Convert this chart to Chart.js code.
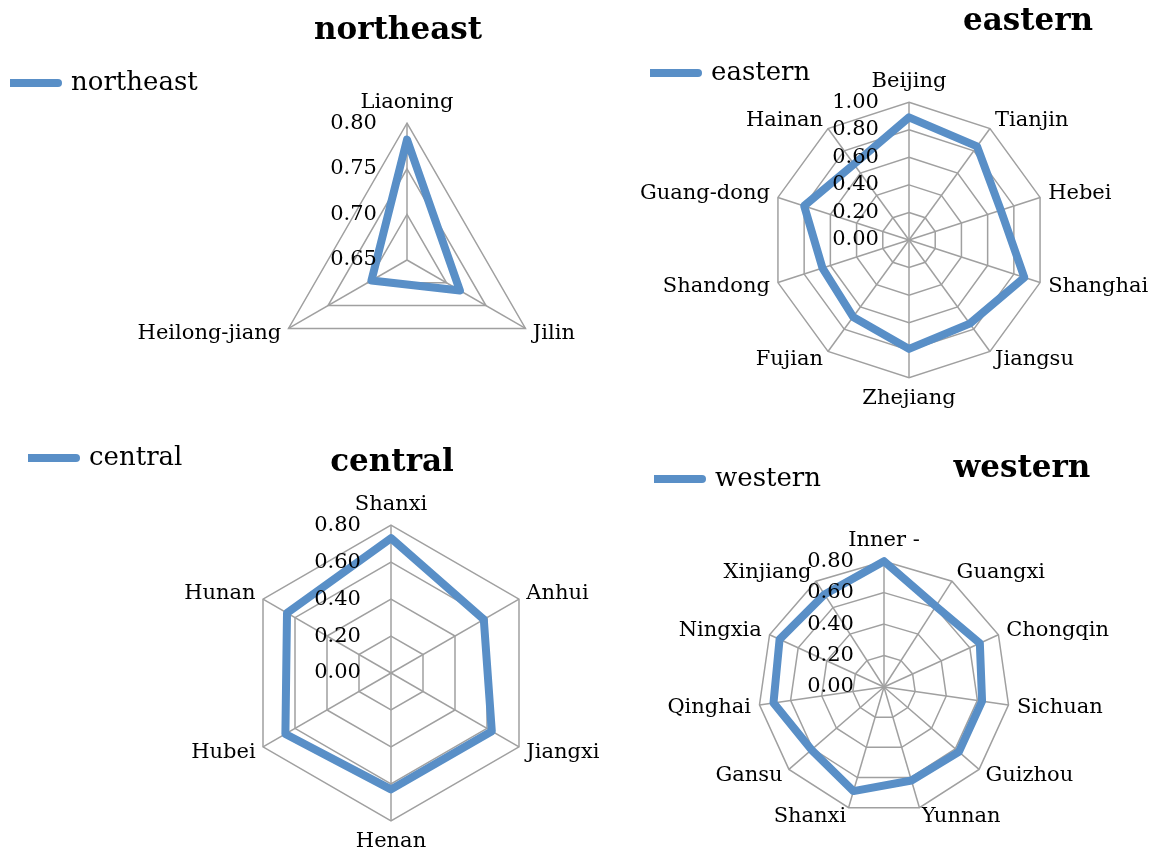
<!DOCTYPE html>
<html>
<head>
<meta charset="utf-8">
<script src="https://cdn.jsdelivr.net/npm/chart.js@4.4.1/dist/chart.umd.min.js"></script>
<style>
  html, body { margin: 0; padding: 0; background: #fff; overflow: hidden; }
  #wrap { position: relative; width: 1155px; height: 856px; overflow: hidden; }
  canvas { position: absolute; }
</style>
</head>
<body>
<div id="wrap">
  <canvas id="northeast" width="700" height="428" style="left:0;top:0"></canvas>
  <canvas id="eastern" width="630" height="428" style="left:578px;top:0"></canvas>
  <canvas id="central" width="640" height="428" style="left:0;top:428px"></canvas>
  <canvas id="western" width="577" height="428" style="left:578px;top:428px"></canvas>
</div>
<script>
// data
const northeastLabels = ['Liaoning', 'Jilin', 'Heilong-jiang'];
const northeastValues = [0.782, 0.717, 0.695];

const easternLabels = ['Beijing', 'Tianjin', 'Hebei', 'Shanghai', 'Jiangsu', 'Zhejiang', 'Fujian', 'Shandong', 'Guang-dong', 'Hainan'];
const easternValues = [0.89, 0.84, 0.70, 0.88, 0.75, 0.79, 0.69, 0.66, 0.80, 0.68];

const centralLabels = ['Shanxi', 'Anhui', 'Jiangxi', 'Henan', 'Hubei', 'Hunan'];
const centralValues = [0.73, 0.58, 0.63, 0.63, 0.66, 0.65];

const westernLabels = ['Inner -', 'Guangxi', 'Chongqin', 'Sichuan', 'Guizhou', 'Yunnan', 'Shanxi', 'Gansu', 'Qinghai', 'Ningxia', 'Xinjiang'];
const westernValues = [0.80, 0.61, 0.67, 0.63, 0.63, 0.62, 0.69, 0.61, 0.71, 0.73, 0.70];

// axis ranges: min, max, step
const northeastRange = [0.65, 0.80, 0.05];
const easternRange = [0, 1, 0.2];
const centralRange = [0, 0.8, 0.2];
const westernRange = [0, 0.8, 0.2];

const blue = 'rgb(89,143,199)';
const gray = '#a0a0a0';
const tickPad = '\u2007'.repeat(8);

Chart.defaults.font.family = "'DejaVu Serif', serif";
Chart.defaults.color = '#000';

// moves the title and legend to fixed spots once layout is done
const placeBoxes = {
  id: 'placeBoxes',
  afterLayout(chart, args, opts) {
    const t = chart.titleBlock;
    if (t && opts.title) {
      const h = t.bottom - t.top;
      t.left = opts.title[0] - 200; t.right = opts.title[0] + 200;
      t.top = opts.title[1] - h / 2; t.bottom = t.top + h;
    }
    const l = chart.legend;
    if (l && opts.legend) {
      const w = l.right - l.left, h = l.bottom - l.top;
      l.left = opts.legend[0]; l.right = l.left + w;
      l.top = opts.legend[1]; l.bottom = l.top + h;
    }
  }
};

function makeRadar(id, name, labels, values, range, place, pad) {
  return new Chart(document.getElementById(id), {
    type: 'radar',
    data: {
      labels: labels,
      datasets: [{
        label: name,
        data: values,
        borderColor: blue,
        backgroundColor: blue,
        borderWidth: 8,
        borderJoinStyle: 'round',
        borderCapStyle: 'round',
        pointRadius: 0,
        pointHoverRadius: 0,
        fill: false
      }]
    },
    options: {
      responsive: false,
      animation: false,
      events: [],
      layout: { padding: pad },
      plugins: {
        title: { display: true, text: name, padding: 0, font: { size: 31, weight: 'bold' } },
        legend: {
          position: 'top',
          align: 'start',
          labels: {
            usePointStyle: true,
            pointStyle: 'line',
            pointStyleWidth: 48,
            padding: 0,
            font: { size: 26 },
            generateLabels: (chart) => Chart.defaults.plugins.legend.labels.generateLabels(chart)
              .map(item => Object.assign(item, { lineCap: 'round', lineWidth: 8, strokeStyle: blue }))
          }
        },
        tooltip: { enabled: false },
        placeBoxes: place
      },
      scales: {
        r: {
          min: range[0],
          max: range[1],
          grid: { color: gray, lineWidth: 1.5 },
          angleLines: { color: gray, lineWidth: 1.5 },
          pointLabels: {
            color: '#000',
            padding: -2,
            // side labels sit centred on their spoke, top/bottom ones above/below it
            font: (c) => ({ size: 21, lineHeight: (c.index * 2) % labels.length === 0 ? 1.2 : 0.1 })
          },
          ticks: {
            stepSize: range[2],
            z: 1,
            color: '#000',
            font: { size: 21 },
            showLabelBackdrop: false,
            backdropPadding: 0,
            callback: (v) => v.toFixed(2) + tickPad
          },
          // repeat the first tick so the centre value gets its label too
          afterBuildTicks: (s) => { s.ticks.unshift({ value: s.min }); }
        }
      }
    },
    plugins: [placeBoxes]
  });
}

makeRadar('northeast', 'northeast', northeastLabels, northeastValues, northeastRange,
  { title: [398, 31], legend: [10, 70] },
  { left: 117, right: 2, top: 5.3, bottom: 8.1 });
makeRadar('eastern', 'eastern', easternLabels, easternValues, easternRange,
  { title: [450, 22], legend: [72, 60] },
  { left: 41, right: 8, top: -4.7, bottom: 16.1 });
makeRadar('central', 'central', centralLabels, centralValues, centralRange,
  { title: [392, 35], legend: [28, 17] },
  { left: 151, right: 8, top: -9.7, bottom: 1.1 });
makeRadar('western', 'western', westernLabels, westernValues, westernRange,
  { title: [444, 41], legend: [76, 38] },
  { left: 56, right: 20, top: 15.3, bottom: 20.1 });
</script>
</body>
</html>
